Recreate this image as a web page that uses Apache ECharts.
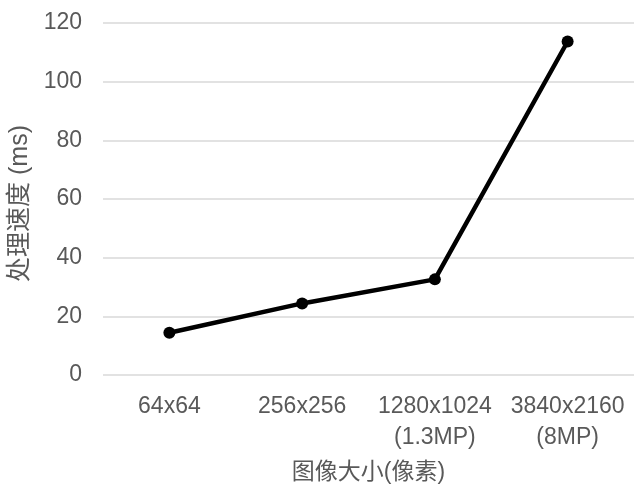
<!DOCTYPE html>
<html>
<head>
<meta charset="utf-8">
<style>
  html, body { margin: 0; padding: 0; background: #ffffff; }
  #chart { width: 634px; height: 485px; }
</style>
<script src="https://cdn.jsdelivr.net/npm/echarts@6/dist/echarts.min.js"></script>
</head>
<body>
<div id="chart"></div>
<script>
// Image sizes (x axis categories)
const categories = ['64x64', '256x256', '1280x1024\n(1.3MP)', '3840x2160\n(8MP)'];
// Processing time per image size, in milliseconds
const processingMs = [14.4, 24.4, 32.6, 113.7];
// Value axis range
const yMin = 0;
const yMax = 120;
const yStep = 20;

const FONT = '"Liberation Sans", Arial, "Noto Sans CJK SC", sans-serif';
const TEXT_COLOR = '#595959';

const chart = echarts.init(document.getElementById('chart'), null, { renderer: 'canvas' });

chart.setOption({
  animation: false,
  backgroundColor: '#ffffff',
  grid: {
    left: 103, right: 0, top: 23, bottom: 110,
    containLabel: false, outerBoundsMode: 'none'
  },
  xAxis: {
    type: 'category',
    data: categories,
    boundaryGap: true,
    name: '图像大小(像素)',
    nameLocation: 'middle',
    nameGap: 86,
    nameTextStyle: { color: TEXT_COLOR, fontSize: 23, fontFamily: FONT },
    axisLine: { show: false },
    axisTick: { show: false },
    axisLabel: {
      color: TEXT_COLOR, fontSize: 23, fontFamily: FONT,
      lineHeight: 31, margin: 16, interval: 0
    }
  },
  yAxis: {
    type: 'value',
    min: yMin,
    max: yMax,
    interval: yStep,
    name: '处理速度 (ms)',
    nameLocation: 'middle',
    nameGap: 69,
    nameTextStyle: { color: TEXT_COLOR, fontSize: 25, fontFamily: FONT, padding: [0, 9, 0, 0] },
    axisLine: { show: false },
    axisTick: { show: false },
    axisLabel: { color: TEXT_COLOR, fontSize: 23, fontFamily: FONT, margin: 21 },
    splitLine: { lineStyle: { color: '#d9d9d9', width: 1.5 } }
  },
  series: [{
    type: 'line',
    data: processingMs,
    symbol: 'circle',
    symbolSize: 12,
    lineStyle: { color: '#000000', width: 4.5 },
    itemStyle: { color: '#000000' }
  }]
});
</script>
</body>
</html>
